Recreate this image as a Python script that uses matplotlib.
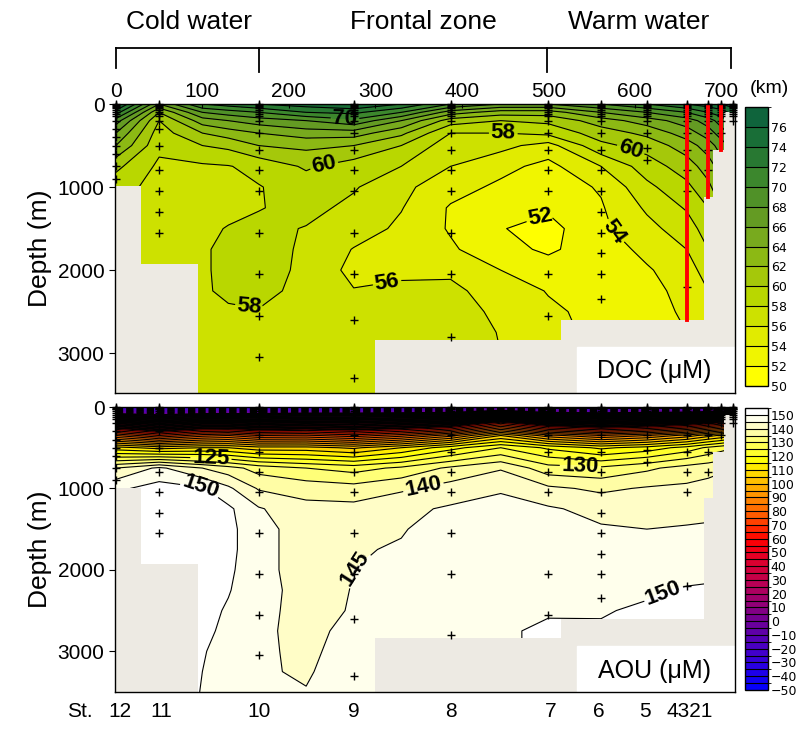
import numpy as np
import matplotlib.pyplot as plt
from matplotlib.colors import ListedColormap, BoundaryNorm, LinearSegmentedColormap
from matplotlib.transforms import blended_transform_factory

plt.rcParams['font.family'] = ['Liberation Sans', 'DejaVu Sans']

# ---- section grid (distance along transect, depth) ----
grid_km = [0, 50, 100, 130, 165, 220, 275, 330, 387, 445, 500, 561, 614, 660, 685, 700, 716]
grid_depth = [0, 100, 200, 350, 500, 750, 1000, 1250, 1500, 1750, 2000, 2250, 2500, 2750, 3000, 3250, 3500]

# DOC (uM), one row per depth, one column per grid_km
doc = [
    [77, 66, 72, 73, 74, 75, 76, 74, 70, 68, 68, 70, 72, 74, 75, 76, 77],
    [73, 62, 68, 69, 70, 72, 72.5, 70, 65, 63, 63, 66, 68, 70, 72, 73, 75],
    [69, 60, 65, 66, 67, 68, 69.5, 66, 61, 60, 60.5, 63, 65, 67, 69, 71, 73],
    [66, 59, 62, 63, 64, 65, 65, 62.5, 58, 58, 58.5, 61, 62.5, 65, 67, 69, 71],
    [64, 58.5, 60, 60.5, 62, 62.5, 62, 60, 56.8, 56.6, 55.2, 59.5, 60.8, 63, 65, 67, 69],
    [60.5, 57.6, 57.7, 57.9, 58.6, 60.3, 59, 58, 56.0, 54.6, 53.4, 56, 59, 61, 63, 65, 67],
    [58.8, 57.3, 57.2, 57.4, 57.9, 58.9, 58.2, 56.5, 54.8, 53.6, 53, 54.2, 57.5, 59.5, 61.5, 63.5, 65.5],
    [58.5, 57.2, 57.3, 57.5, 57.9, 58.6, 57.5, 56.1, 53.8, 53.0, 52.3, 53.8, 56.3, 58.2, 60, 62, 64],
    [58.3, 57.3, 57.6, 58.1, 58.5, 57.9, 57.0, 55.6, 53.8, 52.1, 51.3, 53.6, 55.4, 57, 59, 61, 63],
    [58.2, 57.5, 57.8, 58.4, 58.8, 57.7, 55.9, 55.4, 54.3, 52.6, 51.7, 53.0, 54.5, 56, 58, 60, 62],
    [58, 57.5, 57.8, 58.4, 58.8, 57.6, 55.4, 55.7, 55.6, 54.0, 52.8, 53.1, 53.8, 55, 57, 59, 61],
    [58, 57.5, 57.8, 58.3, 58.6, 57.4, 56.1, 56.3, 56.5, 55, 53.9, 53.2, 53.5, 54.5, 56, 58, 60],
    [58, 57.5, 57.6, 57.8, 57.9, 57.3, 56.6, 56.7, 56.8, 55.6, 54.3, 53.5, 53.5, 54.2, 55.5, 57, 59],
    [58, 57.5, 57.5, 57.5, 57.6, 57.2, 56.8, 57, 57, 55.9, 54.6, 53.5, 53.6, 54, 55, 56, 58],
    [58, 57.5, 57.5, 57.5, 57.5, 57.2, 57, 57, 57, 56, 54.6, 53.5, 53.6, 54, 55, 56, 58],
    [58, 57.5, 57.5, 57.5, 57.5, 57.2, 57, 57, 57, 56, 54.6, 53.5, 53.6, 54, 55, 56, 58],
    [58, 57.5, 57.5, 57.5, 57.5, 57.2, 57, 57, 57, 56, 54.6, 53.5, 53.6, 54, 55, 56, 58],
]

# AOU (uM)
aou = [
    [-30, -30, -30, -30, -30, -30, -30, -30, -30, -20, -30, -30, -30, -30, -30, -30, -30],
    [5, 0, 5, 5, 5, 8, 8, 10, 12, 25, 12, 10, 12, 15, 20, 25, 30],
    [40, 30, 38, 38, 35, 38, 36, 40, 45, 65, 48, 42, 46, 52, 58, 62, 68],
    [80, 70, 78, 80, 75, 76, 72, 78, 88, 105, 92, 85, 90, 97, 103, 106, 110],
    [112, 108, 110, 110, 107, 107, 104, 110, 118, 125, 119, 114, 117, 122, 126, 128, 130],
    [140, 146, 140, 137, 133, 130, 128, 131, 136, 139.5, 132, 131, 134, 137, 138, 139, 140],
    [149, 152, 150.5, 146, 139.5, 138, 137, 139.2, 142, 144.5, 141, 139, 140.5, 141, 142, 143, 144],
    [151, 153, 152, 151, 145.5, 141.5, 141.5, 143.7, 145.7, 146.5, 145.6, 143.5, 143.2, 143.8, 144, 145, 146],
    [152, 153, 153, 151.5, 146.5, 143, 143.5, 144.6, 147.5, 148, 146, 145.5, 145, 145.3, 145.5, 146, 147],
    [152, 153, 153, 151.5, 146.5, 143, 144.5, 145.5, 148.5, 149, 147.5, 147, 146.7, 147, 147, 147.5, 148],
    [152, 153, 152.5, 151, 146.5, 143, 145, 147, 149, 149.5, 148.5, 148.3, 148.3, 148.8, 149, 149, 149],
    [152, 153, 152, 150.3, 147, 143, 145.2, 148, 149.3, 149.7, 149.2, 149.2, 149.6, 150.3, 150.5, 150.5, 150.5],
    [152, 153, 151.5, 149.5, 146.5, 143.2, 145.4, 148.5, 149.5, 149.8, 149.7, 149.8, 150.4, 151, 151, 151, 151],
    [152, 153, 151, 149, 146, 143.5, 146.5, 149, 149.6, 149.6, 150.5, 150.3, 150.8, 151, 151, 151, 151],
    [152, 153, 150.3, 148.5, 145.8, 144, 147, 149, 149.7, 149.6, 150.5, 150.3, 150.8, 151, 151, 151, 151],
    [152, 153, 150, 148, 145.5, 144.5, 147.5, 149, 149.7, 149.6, 150.5, 150.3, 150.8, 151, 151, 151, 151],
    [152, 153, 149.8, 148, 145.3, 145.2, 148, 149, 149.7, 149.6, 150.5, 150.3, 150.8, 151, 151, 151, 151],
]

# bottom topography (step, from each km to the next)
bottom_km = [-5, 29, 95, 300, 515, 680, 690, 703, 720]
bottom_depth = [990, 1930, 3600, 2840, 2600, 1120, 555, 100, 100]

# stations
station_km = [0, 50, 165, 275, 387, 500, 561, 614, 660, 685, 700, 714]
shallow_depths = [0, 10, 20, 30, 50, 75, 100, 125, 150, 200]
deep_depths = [
    [300, 400, 500, 600, 750, 900],
    [300, 500, 800, 1050, 1300, 1550],
    [350, 550, 800, 1050, 1550, 2050, 2550, 3050],
    [350, 550, 800, 1050, 1550, 2050, 2600, 3300],
    [350, 550, 800, 1050, 1550, 2050, 2800],
    [350, 550, 800, 1050, 2050, 2550],
    [350, 550, 800, 1050, 1300, 1550, 1800, 2050, 2350],
    [350, 530, 680],
    [350, 550, 800, 1050, 2200],
    [350, 550, 800],
    [350],
    [],
]
station_names = ['12', '11', '10', '9', '8', '7', '6', '5', '4321']
station_label_km = [5, 52, 165, 275, 387, 503, 559, 612, 664]

red_km = [660, 685, 700]
red_depth = [2600, 1120, 555]

zone_edges = [0, 166, 499, 711]
zone_names = ['Cold water', 'Frontal zone', 'Warm water']
zone_label_km = [85, 355, 604]

doc_levels = list(range(50, 80, 2))
doc_ticks = list(range(50, 78, 2))
aou_levels = list(range(-50, 160, 5))
aou_ticks = list(range(-50, 160, 10))

doc_label_val = [70, 60, 58, 60, 52, 54, 56, 58]
doc_label_km = [265, 240, 448, 595, 494, 569, 314, 154]
doc_label_depth = [175, 700, 340, 560, 1460, 1610, 2180, 2460]

aou_label_val = [125, 150, 140, 145, 130, 150]
aou_label_km = [110, 98, 356, 280, 537, 637]
aou_label_depth = [600, 975, 1010, 2030, 770, 2380]

# ---- colours ----
doc_colors = ['#ffff00', '#f0f500', '#e1eb00', '#cde100', '#b9d700', '#a5c80a',
              '#8cb914', '#78aa1e', '#649b23', '#509128', '#3c872d', '#287832',
              '#196e37', '#0f643c']
doc_cmap = ListedColormap(doc_colors)
doc_norm = BoundaryNorm(doc_levels, doc_cmap.N)

aou_anchor_val = [-50, -25, 0, 25, 50, 60, 75, 90, 100, 110, 117, 125, 135, 140, 145, 150, 155]
aou_anchor_col = ['#0000ff', '#3c00d2', '#6e0096', '#b4005a', '#eb001e', '#ff0000',
                  '#ff5000', '#ff8c00', '#ffb400', '#ffe100', '#ffff00', '#ffff3c',
                  '#ffff8c', '#fffbb4', '#ffffd4', '#ffffff', '#ffffff']
span = aou_anchor_val[-1] - aou_anchor_val[0]
smooth = LinearSegmentedColormap.from_list(
    'aou', [((v - aou_anchor_val[0]) / span, c) for v, c in zip(aou_anchor_val, aou_anchor_col)])
centers = [(a + 2.5 - aou_anchor_val[0]) / span for a in aou_levels[:-1]]
aou_cmap = ListedColormap([smooth(c) for c in centers])
aou_norm = BoundaryNorm(aou_levels, aou_cmap.N)

gray = '#edeae3'

fig = plt.figure(figsize=(8.09, 7.29), dpi=100)
ax1 = fig.add_axes([0.1422, 0.4609, 0.7664, 0.3964])
ax2 = fig.add_axes([0.1422, 0.0508, 0.7664, 0.3909])
cax1 = fig.add_axes([0.9209, 0.4705, 0.0284, 0.3827])
cax2 = fig.add_axes([0.9209, 0.0535, 0.0284, 0.3868])

X, Y = np.meshgrid(grid_km, grid_depth)


def draw_section(ax, Z, levels, cmap, norm, ymax, lab_val, lab_km, lab_depth, name):
    ax.set_xlim(-1, 716)
    ax.set_ylim(ymax, 0)
    cf = ax.contourf(X, Y, Z, levels=levels, cmap=cmap, norm=norm, zorder=1)
    labelled = sorted(set(lab_val))
    plain = [v for v in levels if v not in labelled]
    # very dense near-surface lines are drawn heavier (they merge to black)
    lws = [1.4 if v < 60 else 0.8 for v in plain]
    ax.contour(X, Y, Z, levels=plain, colors='k', linewidths=lws, zorder=2)
    for v in labelled:
        cs = ax.contour(X, Y, Z, levels=[v], colors='k', linewidths=0.8, zorder=2)
        pts = [(xk, yd) for lv, xk, yd in zip(lab_val, lab_km, lab_depth) if lv == v]
        txts = ax.clabel(cs, manual=pts, inline=True, fmt='%d', fontsize=16,
                         inline_spacing=2)
        for t in txts:
            t.set_fontweight('bold')
            t.set_zorder(6)
    ax.fill_between(bottom_km, bottom_depth, 4000, step='post', color=gray,
                    linewidth=0, zorder=3)
    for xk, dd in zip(station_km, deep_depths):
        d = shallow_depths + dd
        ax.plot([xk] * len(d), d, '+', color='k', ms=6, mew=1.0,
                zorder=5, clip_on=False)
    # label box
    ax.add_patch(plt.Rectangle((0.745, 0), 0.255, 0.16, transform=ax.transAxes,
                               color='white', zorder=4))
    ax.text(0.87, 0.075, name, transform=ax.transAxes, ha='center', va='center',
            fontsize=18, zorder=7)
    ax.set_yticks([0, 1000, 2000, 3000])
    ax.tick_params(axis='y', labelsize=15, length=4, direction='out')
    ax.set_ylabel('Depth (m)', fontsize=19, labelpad=4)
    for s in ax.spines.values():
        s.set_linewidth(1.0)
        s.set_zorder(8)
    return cf


cf1 = draw_section(ax1, doc, doc_levels, doc_cmap, doc_norm, 3480,
                   doc_label_val, doc_label_km, doc_label_depth, 'DOC (\u03bcM)')
cf2 = draw_section(ax2, aou, aou_levels, aou_cmap, aou_norm, 3500,
                   aou_label_val, aou_label_km, aou_label_depth, 'AOU (\u03bcM)')

for xk, dep in zip(red_km, red_depth):
    ax1.plot([xk, xk], [0, dep], color='#ff0000', lw=2.8, zorder=5)

# top distance axis
ax1.xaxis.set_ticks_position('top')
ax1.set_xticks(range(0, 800, 100))
ax1.tick_params(axis='x', labelsize=15, length=3, direction='in', pad=2)
ax1.text(1.055, 1.055, '(km)', transform=ax1.transAxes, fontsize=14,
         ha='center', va='center')

ax2.set_xticks([])

# water mass brackets
tr = blended_transform_factory(ax1.transData, ax1.transAxes)
ax1.plot([zone_edges[0], zone_edges[-1]], [1.194, 1.194], color='k', lw=1.3,
         transform=tr, clip_on=False)
for i, xe in enumerate(zone_edges):
    low = 1.111 if 0 < i < len(zone_edges) - 1 else 1.125
    ax1.plot([xe, xe], [1.194, low], color='k', lw=1.3, transform=tr, clip_on=False)
for xk, nm in zip(zone_label_km, zone_names):
    ax1.text(xk, 1.285, nm, transform=tr, fontsize=19, ha='center', va='center')

# station labels
tr2 = blended_transform_factory(ax2.transData, ax2.transAxes)
ax2.text(-42, -0.07, 'St.', transform=tr2, fontsize=15, ha='center', va='center')
for xk, nm in zip(station_label_km, station_names):
    ax2.text(xk, -0.07, nm, transform=tr2, fontsize=15, ha='center', va='center')

# colorbars
cb1 = fig.colorbar(cf1, cax=cax1, ticks=doc_ticks, drawedges=True)
cb2 = fig.colorbar(cf2, cax=cax2, ticks=aou_ticks, drawedges=True)
for cb in (cb1, cb2):
    cb.ax.tick_params(length=0, labelsize=9, pad=2)
    cb.dividers.set_color('k')
    cb.dividers.set_linewidth(0.8)
    cb.outline.set_linewidth(1.0)
    for t in cb.ax.get_yticklabels():
        t.set_family('DejaVu Sans')

fig.savefig('out.png', dpi=100)
